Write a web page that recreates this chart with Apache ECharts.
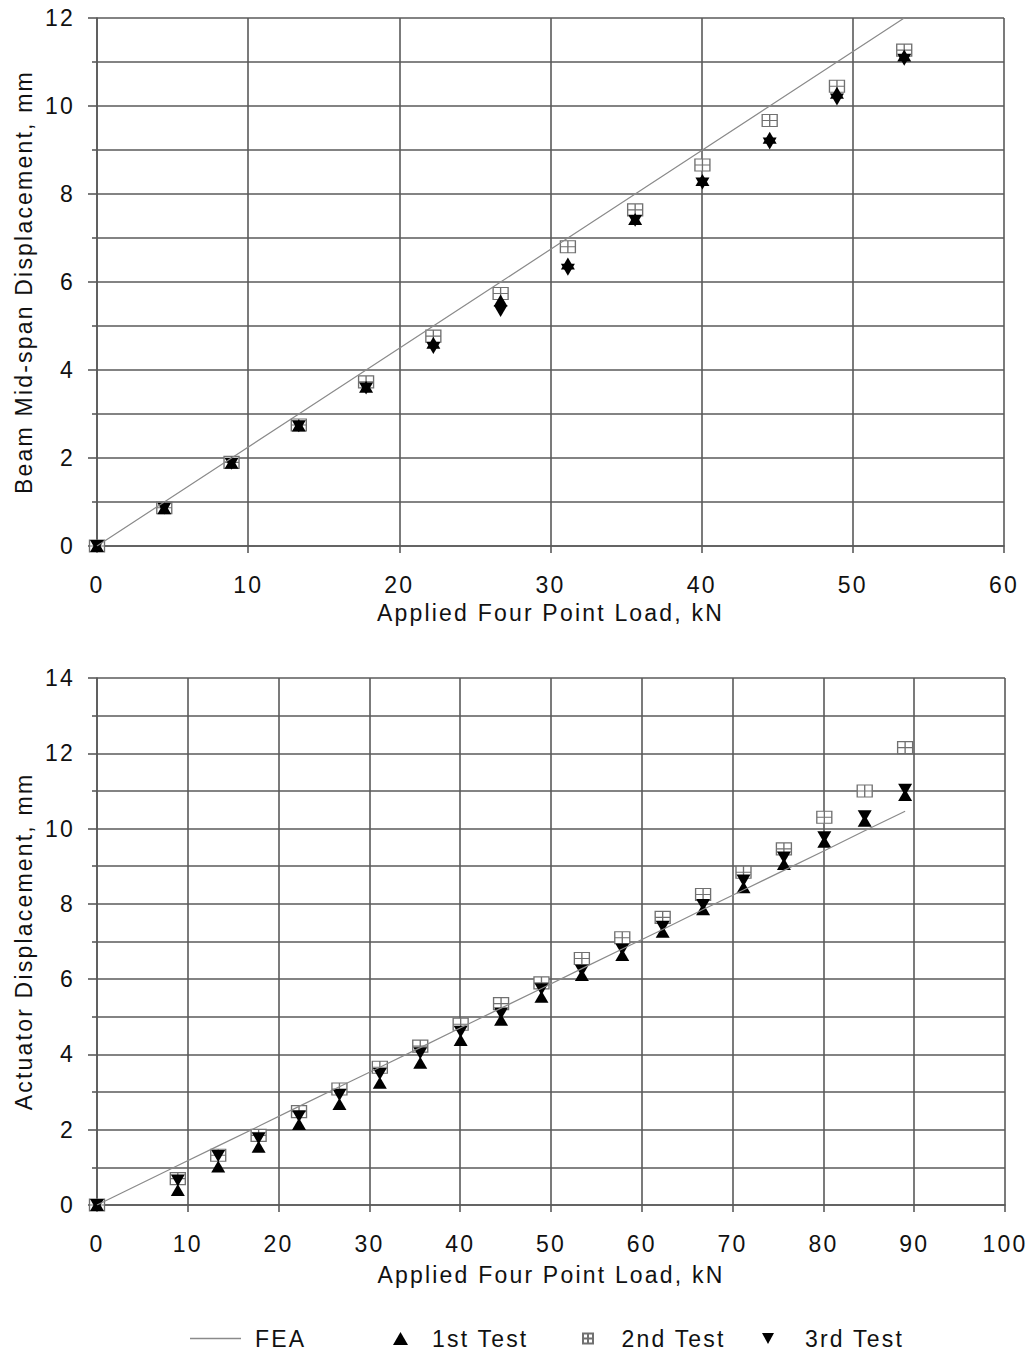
<!DOCTYPE html>
<html>
<head>
<meta charset="utf-8">
<script src="https://cdn.jsdelivr.net/npm/echarts@6/dist/echarts.min.js"></script>
<style>
  html, body { margin: 0; padding: 0; background: #fff; }
  #chart { width: 1027px; height: 1356px; }
  /* wide-set lettering used throughout the figure */
  #chart svg text { letter-spacing: 2.2px; }
</style>
</head>
<body>
<div id="chart"></div>
<script>
// ---- Beam mid-span displacement (mm) vs applied four point load (kN) ----
const beamLoads = [0, 4.45, 8.9, 13.35, 17.8, 22.25, 26.7, 31.15, 35.6, 40.05, 44.5, 48.95, 53.4];
const beamFEA   = [0, 1, 2, 3, 4, 5, 6, 7, 8, 9, 10, 11, 12];
const beamTest1 = [0, 0.86, 1.89, 2.74, 3.62, 4.62, 5.58, 6.42, 7.43, 8.32, 9.28, 10.30, 11.15];
const beamTest2 = [0, 0.87, 1.90, 2.75, 3.73, 4.77, 5.74, 6.80, 7.64, 8.66, 9.67, 10.45, 11.27];
const beamTest3 = [0, 0.85, 1.87, 2.72, 3.58, 4.50, 5.34, 6.28, 7.39, 8.24, 9.15, 10.15, 11.05];

// ---- Actuator displacement (mm) vs applied four point load (kN) ----
const actLoads = [0, 8.9, 13.35, 17.8, 22.25, 26.7, 31.15, 35.6, 40.05, 44.5, 48.95,
                  53.4, 57.85, 62.3, 66.75, 71.2, 75.65, 80.1, 84.55, 89];
const actFEA   = [0, 1.05, 1.57, 2.09, 2.62, 3.14, 3.66, 4.18, 4.71, 5.23, 5.75,
                  6.28, 6.80, 7.32, 7.85, 8.37, 8.89, 9.41, 9.94, 10.46];
const actTest1 = [0, 0.40, 1.02, 1.55, 2.15, 2.68, 3.25, 3.78, 4.38, 4.92, 5.53,
                  6.11, 6.64, 7.26, 7.86, 8.44, 9.06, 9.65, 10.21, 10.89];
const actTest2 = [0, 0.70, 1.32, 1.85, 2.48, 3.08, 3.66, 4.22, 4.80, 5.35, 5.90,
                  6.55, 7.10, 7.64, 8.25, 8.84, 9.46, 10.30, 11.00, 12.15];
const actTest3 = [0, 0.65, 1.30, 1.77, 2.36, 2.92, 3.48, 4.03, 4.60, 5.09, 5.73,
                  6.22, 6.79, 7.39, 7.97, 8.62, 9.23, 9.77, 10.33, 11.03];

// ---- Axis ranges and titles ----
const beamXRange = { min: 0, max: 60, step: 10 };
const beamYRange = { min: 0, max: 12, step: 2 };
const actXRange  = { min: 0, max: 100, step: 10 };
const actYRange  = { min: 0, max: 14, step: 2 };
const xTitle     = 'Applied Four Point Load, kN';
const beamYTitle = 'Beam Mid-span Displacement, mm';
const actYTitle  = 'Actuator Displacement, mm';
const seriesNames = ['FEA', '1st Test', '2nd Test', '3rd Test'];

const FONT = "'Liberation Sans', Arial, sans-serif";
const TEXT = '#111';
const GRID = '#5a5a5a';
const gridLine = { color: GRID, width: 1.6 };

const SYM_UP   = 'triangle';
const SYM_DOWN = 'path://M0,0L10,0L5,9Z';
const SYM_BOX  = 'path://M0,0H10V10H0Z M5,0V10 M0,5H10';
const ICON_LINE = 'path://M0,0H34V1H0Z';   // thin bar, kept to aspect inside the legend box

const pairs = (xs, ys) => xs.map((x, i) => [x, ys[i]]);

function xAxisFor(gridIndex, r, gap) {
  return {
    type: 'value', gridIndex, min: r.min, max: r.max, interval: r.step,
    name: xTitle, nameLocation: 'middle', nameGap: gap,
    nameTextStyle: { fontFamily: FONT, fontSize: 23, color: TEXT },
    axisLine: { show: true, lineStyle: gridLine },
    axisTick: { show: true, length: 7, lineStyle: gridLine },
    splitLine: { show: true, lineStyle: gridLine },
    axisLabel: { margin: 27, fontFamily: FONT, fontSize: 23, color: TEXT }
  };
}
function yAxisFor(gridIndex, r, title) {
  return {
    type: 'value', gridIndex, min: r.min, max: r.max, interval: r.step,
    name: title, nameLocation: 'middle', nameGap: 62,
    nameTextStyle: { fontFamily: FONT, fontSize: 23, color: TEXT },
    axisLine: { show: true, lineStyle: gridLine },
    axisTick: { show: true, length: 9, lineStyle: gridLine },
    minorTick: { show: true, splitNumber: 2, length: 5, lineStyle: gridLine },
    splitLine: { show: true, lineStyle: gridLine },
    minorSplitLine: { show: true, lineStyle: gridLine },
    axisLabel: { margin: 22, fontFamily: FONT, fontSize: 23, color: TEXT }
  };
}

// FEA line first, then the 2nd test boxes, with both triangle series drawn on top
function seriesFor(idx, loads, fea, t1, t2, t3) {
  return [
    { name: seriesNames[0], type: 'line', xAxisIndex: idx, yAxisIndex: idx,
      data: pairs(loads, fea), symbol: 'none', silent: true,
      lineStyle: { color: '#8a8a8a', width: 1.2 }, itemStyle: { color: '#8a8a8a' } },
    { name: seriesNames[2], type: 'scatter', xAxisIndex: idx, yAxisIndex: idx,
      data: pairs(loads, t2), symbol: SYM_BOX, symbolSize: [15, 12],
      itemStyle: { color: '#fff', borderColor: '#707070', borderWidth: 1.2, opacity: 1 } },
    { name: seriesNames[1], type: 'scatter', xAxisIndex: idx, yAxisIndex: idx,
      data: pairs(loads, t1), symbol: SYM_UP, symbolSize: [14, 12],
      itemStyle: { color: '#000', opacity: 1 } },
    { name: seriesNames[3], type: 'scatter', xAxisIndex: idx, yAxisIndex: idx,
      data: pairs(loads, t3), symbol: SYM_DOWN, symbolSize: [14, 12],
      itemStyle: { color: '#000', opacity: 1 } }
  ];
}

function legendFor(name, left, w, h, pad, icon) {
  const lg = {
    data: [name], left, top: 1322, orient: 'horizontal',
    itemWidth: w, itemHeight: h, selectedMode: false,
    textStyle: { fontFamily: FONT, fontSize: 23, color: TEXT, padding: [0, 0, 0, pad] }
  };
  if (icon) lg.icon = icon;
  return lg;
}

const chart = echarts.init(document.getElementById('chart'), null, { renderer: 'svg' });
chart.setOption({
  animation: false,
  backgroundColor: '#fff',
  grid: [
    { left: 97, top: 18, width: 907, height: 528, containLabel: false, outerBoundsMode: 'none' },
    { left: 97, top: 678, width: 908, height: 527, containLabel: false, outerBoundsMode: 'none' }
  ],
  xAxis: [xAxisFor(0, beamXRange, 55), xAxisFor(1, actXRange, 58)],
  yAxis: [yAxisFor(0, beamYRange, beamYTitle), yAxisFor(1, actYRange, actYTitle)],
  legend: [
    legendFor(seriesNames[0], 185, 51, 12, 9, ICON_LINE),
    legendFor(seriesNames[1], 388, 15, 13, 19),
    legendFor(seriesNames[2], 577, 11, 10, 23),
    legendFor(seriesNames[3], 757, 12, 11, 26)
  ],
  series: [
    ...seriesFor(0, beamLoads, beamFEA, beamTest1, beamTest2, beamTest3),
    ...seriesFor(1, actLoads, actFEA, actTest1, actTest2, actTest3)
  ]
});
</script>
</body>
</html>
